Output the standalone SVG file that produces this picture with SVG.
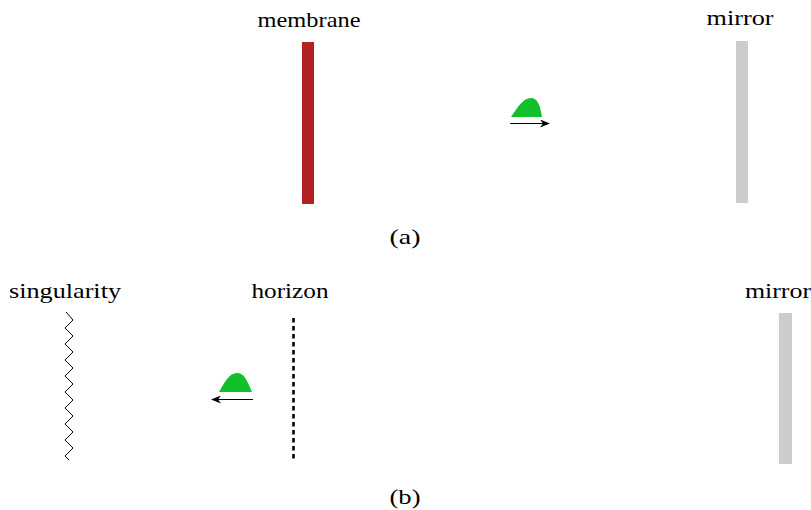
<svg xmlns="http://www.w3.org/2000/svg" width="811" height="510" viewBox="0 0 811 510">
<style>
text{font-family:"Liberation Serif","Times New Roman",serif;font-size:21px;fill:#000}
.wave{fill:#12c12a}
.mirror{fill:#cccccc}
.arr{stroke:#000;stroke-width:1;fill:none}
</style>
<defs>
<marker id="ah" markerWidth="10" markerHeight="8" refX="9" refY="4" orient="auto" markerUnits="userSpaceOnUse">
<path d="M0,0 L10,4 L0,8 L3,4 Z" fill="#000"/>
</marker>
</defs>
<rect width="811" height="510" fill="#fff"/>
<g id="membrane">
<rect x="302" y="42" width="12" height="162" fill="#b22222"/>
<text x="309" y="27" text-anchor="middle" textLength="103" lengthAdjust="spacingAndGlyphs">membrane</text>
</g>
<g id="mirror-a">
<rect class="mirror" x="736" y="41" width="12" height="162"/>
<text x="740" y="25" text-anchor="middle" textLength="67" lengthAdjust="spacingAndGlyphs">mirror</text>
</g>
<g id="pulse-a">
<path class="wave" d="M511,117 C518,107 523,98 531,98 C537,98 540,104 542,117 Z"/>
</g>
<text x="405" y="244" text-anchor="middle" textLength="31" lengthAdjust="spacingAndGlyphs">(a)</text>
<g id="singularity">
<path d="M66,312 L73,320 L65,328 L73,336 L65,344 L73,352 L65,360 L73,368 L65,376 L73,384 L65,392 L73,400 L65,408 L73,416 L65,424 L73,432 L65,440 L73,448 L65,456 L69,460" stroke="#000" stroke-width="1" fill="none"/>
<text x="65" y="298" text-anchor="middle" textLength="112" lengthAdjust="spacingAndGlyphs">singularity</text>
</g>
<g id="horizon">
<line x1="293.5" y1="318" x2="293.5" y2="462" stroke="#000" stroke-width="2.6" stroke-dasharray="4.5 3.5"/>
<text x="290" y="298" text-anchor="middle" textLength="77" lengthAdjust="spacingAndGlyphs">horizon</text>
</g>
<g id="mirror-b">
<rect class="mirror" x="779" y="313" width="13" height="151"/>
<text x="778" y="298" text-anchor="middle" textLength="66" lengthAdjust="spacingAndGlyphs">mirror</text>
</g>
<g id="pulse-b">
<path class="wave" d="M219,392 C225,382 229,373 237,373 C244,373 247,380 252,392 Z"/>
</g>
<text x="405" y="504" text-anchor="middle" textLength="31" lengthAdjust="spacingAndGlyphs">(b)</text>
<g id="connectors">
<line class="arr" x1="510" y1="123.5" x2="549" y2="123.5" marker-end="url(#ah)"/>
<line class="arr" x1="253" y1="399.5" x2="212" y2="399.5" marker-end="url(#ah)"/>
</g>
</svg>
